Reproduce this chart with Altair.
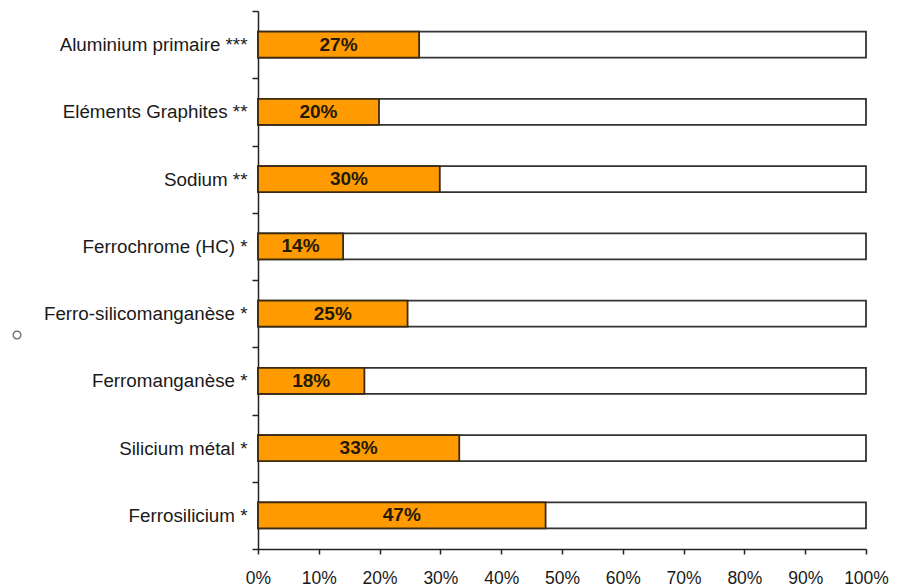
import altair as alt
import pandas as pd

categories = [
    "Aluminium primaire ***",
    "Eléments Graphites **",
    "Sodium **",
    "Ferrochrome (HC) *",
    "Ferro-silicomanganèse *",
    "Ferromanganèse *",
    "Silicium métal *",
    "Ferrosilicium *",
]
shares = [0.265, 0.199, 0.299, 0.140, 0.246, 0.175, 0.331, 0.473]
labels = ["27%", "20%", "30%", "14%", "25%", "18%", "33%", "47%"]
totals = [1.0] * len(categories)

df = pd.DataFrame({
    "cat": categories,
    "share": shares,
    "label": labels,
    "total": totals,
})
df["mid"] = df["share"] / 2

FONT = "Liberation Sans"

y_enc = alt.Y(
    "cat:N",
    sort=categories,
    title=None,
    scale=alt.Scale(paddingInner=0, paddingOuter=0),
    axis=alt.Axis(
        domain=True, domainColor="#222222", domainWidth=1.5,
        ticks=True, tickBand="extent", tickSize=6, tickColor="#222222", tickWidth=1.5,
        labelFont=FONT, labelFontSize=18.8, labelColor="#1a1a1a",
        labelPadding=5, labelLimit=400, grid=False,
    ),
)

x_scale = alt.Scale(domain=[0, 1], nice=False, zero=True)
x_axis = alt.Axis(
    format=".0%", values=[i / 10 for i in range(11)],
    domain=True, domainColor="#222222", domainWidth=1.5,
    ticks=True, tickSize=5, tickColor="#222222", tickWidth=1.5,
    labelFont=FONT, labelFontSize=17.5, labelColor="#1a1a1a",
    labelPadding=15, grid=False, title=None, labelFlush=False,
)

BAND = alt.RelativeBandSize(band=0.387)

base = alt.Chart(df)

bg = base.mark_bar(color="white", stroke="#333333", strokeWidth=1.8, height=BAND).encode(
    x=alt.X("total:Q", scale=x_scale, axis=x_axis),
    y=y_enc,
)

fg = base.mark_bar(color="#FF9A00", stroke="#3a2a10", strokeWidth=1.8, height=BAND).encode(
    x=alt.X("share:Q", scale=x_scale, axis=x_axis),
    y=y_enc,
)

txt = base.mark_text(
    font=FONT, fontSize=19, fontWeight="bold", color="#241a08", baseline="middle", align="center"
).encode(
    x=alt.X("mid:Q", scale=x_scale, axis=x_axis),
    y=y_enc,
    text="label:N",
)

dot = alt.Chart(pd.DataFrame({"k": [0]})).mark_point(
    shape="circle", size=60, filled=False, color="#222222", strokeWidth=1.2, clip=False
).encode(x=alt.value(-241), y=alt.value(324))

chart = (
    alt.layer(bg, fg, txt, dot)
    .properties(
        width=608,
        height=538,
        autosize=alt.AutoSizeParams(type="none"),
        padding={"left": 250, "top": 3, "right": 24, "bottom": 40},
        background="white",
    )
    .configure_view(stroke=None)
)

chart.save("out.html", embed_options={"renderer": "svg", "actions": False})
